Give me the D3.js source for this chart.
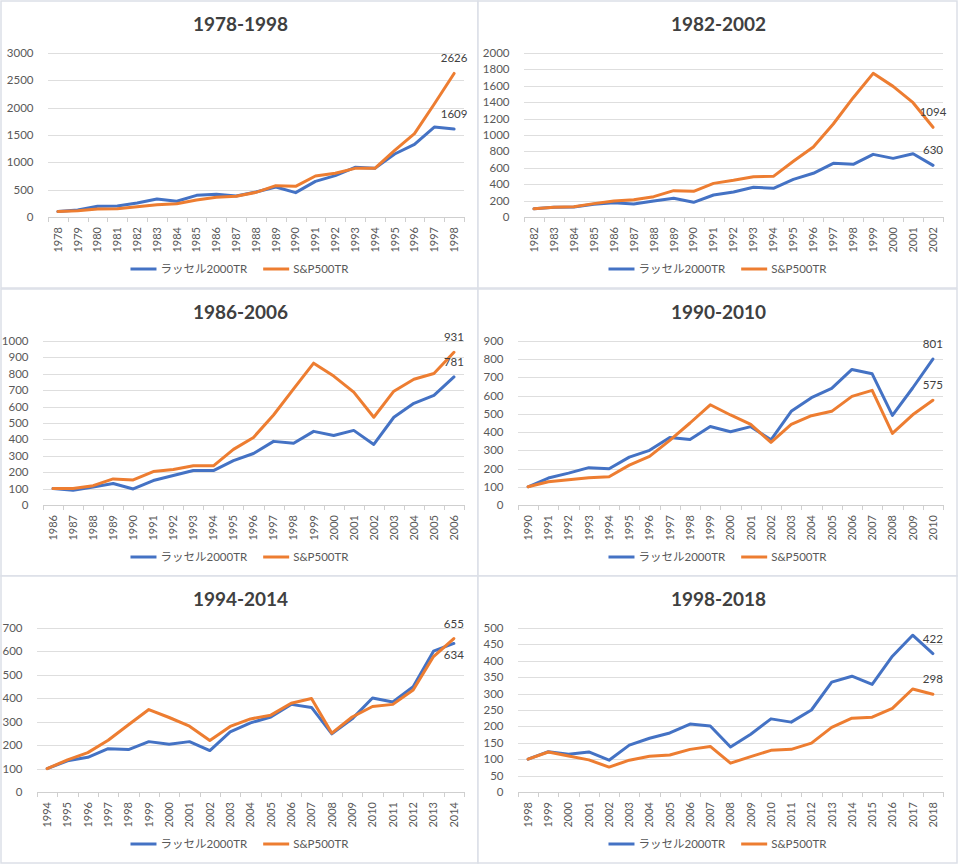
<!DOCTYPE html>
<html>
<head>
<meta charset="utf-8">
<script src="https://cdn.jsdelivr.net/npm/d3@7"></script>
<style>
	body { margin: 0; background: #fff; }
	text { font-family: Lato, "Noto Sans CJK JP", sans-serif; }
</style>
</head>
<body>
<div id="chart"></div>
<script>
// chart values
var titles = ["1978-1998", "1982-2002", "1986-2006", "1990-2010", "1994-2014", "1998-2018"];
var startYears = [1978, 1982, 1986, 1990, 1994, 1998];
var yMax = [3000, 2000, 1000, 900, 700, 500];
var yStep = [500, 200, 100, 100, 100, 50];
var seriesNames = ["ラッセル2000TR", "S&P500TR"];

var russell7898 = [100, 130, 195, 200, 255, 330, 287, 396, 415, 385, 457, 549, 445, 652, 756, 909, 890, 1152, 1329, 1646, 1609];
var sp7898      = [100, 115, 146, 152, 188, 225, 243, 311, 360, 378, 451, 573, 561, 750, 799, 890, 890, 1220, 1524, 2067, 2626];

var russell8202 = [100, 120, 122, 155, 175, 158, 195, 228, 179, 268, 305, 362, 350, 459, 533, 654, 642, 764, 715, 772, 630];
var sp8202      = [100, 118, 126, 163, 195, 211, 248, 321, 313, 410, 447, 492, 496, 679, 854, 1134, 1455, 1752, 1593, 1394, 1094];

var russell8606 = [100, 90, 110, 131, 98, 149, 180, 210, 210, 271, 314, 388, 376, 449, 424, 455, 369, 535, 620, 669, 781];
var sp8606      = [100, 100, 118, 159, 153, 204, 216, 239, 239, 339, 412, 549, 708, 865, 786, 688, 535, 694, 767, 802, 931];

var russell9010 = [100, 148, 175, 205, 199, 263, 300, 371, 360, 431, 402, 430, 358, 514, 589, 640, 744, 720, 492, 642, 801];
var sp9010      = [100, 128, 139, 150, 155, 219, 267, 355, 450, 550, 494, 442, 344, 442, 490, 514, 596, 629, 393, 495, 575];

var russell9414 = [100, 133, 148, 185, 181, 215, 204, 215, 177, 257, 295, 320, 374, 361, 248, 312, 401, 384, 449, 601, 634];
var sp9414      = [100, 137, 168, 221, 287, 352, 318, 281, 220, 280, 312, 328, 379, 399, 251, 320, 365, 374, 435, 578, 655];

var russell9818 = [100, 123, 115, 122, 97, 143, 164, 180, 207, 201, 137, 176, 223, 213, 250, 335, 353, 328, 414, 478, 422];
var sp9818      = [100, 122, 110, 98, 76, 97, 109, 113, 130, 139, 88, 108, 127, 130, 149, 197, 225, 228, 255, 314, 298];

var russellData = [russell7898, russell8202, russell8606, russell9010, russell9414, russell9818];
var spData = [sp7898, sp8202, sp8606, sp9010, sp9414, sp9818];

// layout
var colX = [1, 478], colW = [477, 479];
var rowY = [1, 289, 576], rowH = 287;
var plotLeft = [47, 46, 42, 40, 36, 40];
var plotTop = 52, plotBottom = 216;
var colors = ["#4472c4", "#ed7d31"];
var textColor = "#595959";
// end label placed below the point (russell, sp) per panel
var labelBelow = [[false, false], [false, false], [false, false], [false, false], [true, false], [false, false]];

var svg = d3.select("#chart").append("svg")
	.attr("width", 962)
	.attr("height", 868);

titles.forEach(function(title, p) {
	var col = p % 2, row = Math.floor(p / 2);
	var w = colW[col];
	var g = svg.append("g")
		.attr("transform", "translate(" + colX[col] + "," + rowY[row] + ")");

	g.append("rect")
		.attr("x", 0).attr("y", 0)
		.attr("width", w).attr("height", rowH)
		.attr("fill", "#fff")
		.attr("stroke", "#dcdfe7")
		.attr("stroke-width", 1.5);

	var years = d3.range(startYears[p], startYears[p] + 21);
	var x = d3.scaleBand()
		.domain(years)
		.range([plotLeft[p], w - 14]);
	var y = d3.scaleLinear()
		.domain([0, yMax[p]])
		.range([plotBottom, plotTop]);

	// title
	g.append("text")
		.attr("x", w / 2 + 1)
		.attr("y", 30)
		.attr("text-anchor", "middle")
		.style("font-size", "19px")
		.style("font-weight", 700)
		.attr("fill", "#404040")
		.text(title);

	// gridlines + y labels
	var yTicks = d3.range(0, yMax[p] + 1, yStep[p]);
	g.selectAll(".grid")
		.data(yTicks.filter(function(d) { return d > 0; }))
		.enter()
		.append("line")
		.attr("x1", plotLeft[p]).attr("x2", w - 14)
		.attr("y1", function(d) { return Math.round(y(d)) + 0.5; })
		.attr("y2", function(d) { return Math.round(y(d)) + 0.5; })
		.attr("stroke", "#dedede");

	g.selectAll(".ylab")
		.data(yTicks)
		.enter()
		.append("text")
		.attr("x", plotLeft[p] - 14.5)
		.attr("y", function(d) { return y(d); })
		.attr("dy", "0.35em")
		.attr("text-anchor", "end")
		.style("font-size", "11.5px")
		.attr("fill", textColor)
		.text(function(d) { return d; });

	// x axis
	var xAxis = d3.axisBottom(x)
		.tickSize(0)
		.tickFormat(function(d) { return d; });
	var axisG = g.append("g")
		.attr("transform", "translate(0," + plotBottom + ")")
		.call(xAxis);
	axisG.select(".domain").attr("stroke", "#cfcfcf");
	axisG.selectAll(".tick text")
		.attr("transform", "rotate(-90)")
		.attr("text-anchor", "end")
		.attr("x", -10)
		.attr("y", 0)
		.attr("dy", "0.35em")
		.style("font-size", "11px")
		.style("font-family", "Lato, sans-serif")
		.attr("fill", textColor);

	// tick marks at band edges
	var edges = years.map(function(d) { return x(d); }).concat([x.range()[1]]);
	g.selectAll(".xtick")
		.data(edges)
		.enter()
		.append("line")
		.attr("x1", function(d) { return Math.round(d) + 0.5; })
		.attr("x2", function(d) { return Math.round(d) + 0.5; })
		.attr("y1", plotBottom)
		.attr("y2", plotBottom + 5)
		.attr("stroke", "#cfcfcf");

	// lines
	var line = d3.line()
		.x(function(d, i) { return x(years[i]) + x.bandwidth() / 2; })
		.y(function(d) { return y(d); });

	[russellData[p], spData[p]].forEach(function(vals, s) {
		g.append("path")
			.datum(vals)
			.attr("d", line)
			.attr("fill", "none")
			.attr("stroke", colors[s])
			.attr("stroke-width", 3)
			.attr("stroke-linejoin", "round")
			.attr("stroke-linecap", "round");
	});

	// last value labels
	[russellData[p], spData[p]].forEach(function(vals, s) {
		var last = vals[vals.length - 1];
		g.append("text")
			.attr("x", x(years[years.length - 1]) + x.bandwidth() / 2)
			.attr("y", labelBelow[p][s] ? y(last) + 16 : y(last) - 11)
			.attr("text-anchor", "middle")
			.style("font-size", "11.5px")
			.attr("fill", "#404040")
			.text(last);
	});

	// legend
	var legend = g.append("g");
	var cx = 0;
	seriesNames.forEach(function(name, s) {
		if (s > 0) cx += 16;
		legend.append("line")
			.attr("x1", cx).attr("x2", cx + 26)
			.attr("y1", 0).attr("y2", 0)
			.attr("stroke", colors[s])
			.attr("stroke-width", 3);
		cx += 30;
		var t = legend.append("text")
			.attr("x", cx)
			.attr("y", 0)
			.attr("dy", "0.35em")
			.style("font-size", "11.5px")
			.attr("fill", textColor)
			.text(name);
		cx += t.node().getComputedTextLength();
	});
	legend.attr("transform", "translate(" + (w / 2 - cx / 2) + ",268)");
});
</script>
</body>
</html>
